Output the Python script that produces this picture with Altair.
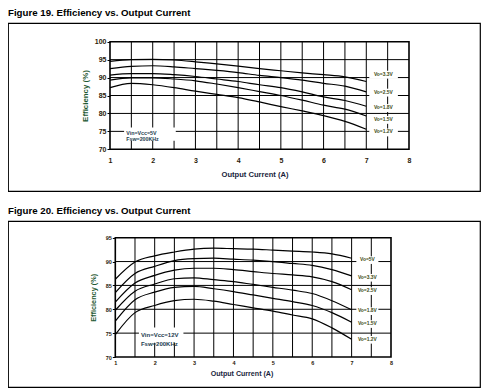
import altair as alt
import pandas as pd

FONT = "Liberation Sans"

# ---------------- data ----------------
current = [1, 1.5, 2, 2.5, 3, 3.5, 4, 4.5, 5, 5.5, 6, 6.5, 7]

# Figure 19 (Vin = Vcc = 5V)
f19_names = ["Vo=3.3V", "Vo=2.5V", "Vo=1.8V", "Vo=1.5V", "Vo=1.2V"]
f19_vo33 = [94.5, 95.0, 95.1, 94.9, 94.4, 93.8, 93.2, 92.5, 91.9, 91.3, 90.8, 90.2, 88.9]
f19_vo25 = [92.5, 93.1, 93.3, 93.0, 92.5, 92.0, 91.4, 90.6, 90.0, 89.3, 88.4, 87.6, 86.0]
f19_vo18 = [90.7, 91.1, 91.1, 90.8, 90.3, 89.6, 88.9, 88.0, 87.2, 86.0, 84.6, 83.6, 82.0]
f19_vo15 = [89.3, 89.9, 89.9, 89.6, 89.1, 88.2, 87.2, 86.1, 85.0, 83.7, 82.3, 81.2, 79.3]
f19_vo12 = [87.2, 88.4, 88.0, 87.2, 86.2, 85.3, 84.4, 83.2, 81.9, 80.7, 79.4, 77.8, 75.6]
f19_label_at = [90.8, 85.8, 81.5, 78.2, 74.7]

# Figure 20 (Vin = Vcc = 12V)
f20_names = ["Vo=5V", "Vo=3.3V", "Vo=2.5V", "Vo=1.8V", "Vo=1.5V", "Vo=1.2V"]
f20_vo50 = [86.3, 89.9, 91.2, 92.0, 92.6, 92.8, 92.7, 92.6, 92.4, 92.2, 92.0, 91.6, 90.7]
f20_vo33 = [83.5, 87.5, 89.0, 90.2, 90.6, 90.7, 90.5, 90.3, 90.0, 89.6, 89.2, 88.3, 87.0]
f20_vo25 = [81.5, 85.5, 87.1, 88.2, 88.6, 88.6, 88.3, 87.9, 87.5, 87.2, 86.8, 85.8, 84.1]
f20_vo18 = [79.8, 83.8, 85.3, 86.4, 86.6, 86.2, 85.8, 85.2, 84.6, 84.0, 83.3, 81.8, 79.9]
f20_vo15 = [77.5, 82.0, 83.6, 84.6, 84.8, 84.3, 83.7, 83.0, 82.3, 81.6, 80.8, 79.3, 77.3]
f20_vo12 = [74.7, 79.3, 80.8, 81.8, 82.1, 81.7, 81.0, 80.3, 79.6, 78.8, 78.0, 76.1, 73.7]
f20_label_at = [90.3, 86.6, 83.8, 79.6, 76.9, 73.6]

x_ticks = [1, 2, 3, 4, 5, 6, 7, 8]
x_grid = [1.5, 2, 2.5, 3, 3.5, 4, 4.5, 5, 5.5, 6, 6.5, 7, 7.5]

X_TITLE = "Output Current (A)"
Y_TITLE = "Efficiency (%)"


def panel(title, names, series, label_at, ymax, W, H, xr, yr, x_off, y_off,
          xtitle_pos, ytitle_x, tick_fs, xtitle_fs, ytitle_fs, xlab_pad,
          cond_text, cond_y, cond_box, cond_fs, cond_lh, lab_x, lab_box, lab_half):
    xs = alt.Scale(domain=[1, 8], range=xr, nice=False, zero=False)
    ys = alt.Scale(domain=[70, ymax], range=yr, nice=False, zero=False)
    y_ticks = list(range(70, ymax + 1, 5))
    y_grid = y_ticks[1:-1]

    rows = []
    for n, vals in zip(names, series):
        for c, v in zip(current, vals):
            rows.append({"I": c, "E": v, "series": n})
    df = pd.DataFrame(rows)

    x_axis = alt.Axis(values=x_ticks, offset=x_off, grid=False, domain=False, ticks=False,
                      labelFont=FONT, labelFontSize=tick_fs, labelFontWeight="bold",
                      labelColor="#2a1a08", labelPadding=xlab_pad, labelFlush=False,
                      labelOverlap=False, format="d",
                      titleFont=FONT, titleFontSize=xtitle_fs, titleFontWeight="bold",
                      titleColor="#1a1f3d", titleX=xtitle_pos[0], titleY=xtitle_pos[1],
                      titleBaseline="middle", titleAlign="center")
    y_axis = alt.Axis(values=y_ticks, offset=y_off, grid=False, domain=False, ticks=True,
                      tickSize=3, tickColor="black", tickWidth=1,
                      labelFont=FONT, labelFontSize=tick_fs, labelFontWeight="bold",
                      labelColor="#2a1a08", labelPadding=1, labelOverlap=False,
                      titleFont=FONT, titleFontSize=ytitle_fs, titleFontWeight="bold",
                      titleColor="#1f5a32", titleX=ytitle_x, titleY=(yr[0] + yr[1]) / 2,
                      titleBaseline="middle", titleAlign="center", titleAngle=-90)

    def X(field=None, datum=None):
        if field is not None:
            return alt.X(field, scale=xs, axis=x_axis, title=X_TITLE)
        return alt.X(datum=datum, type="quantitative", scale=xs, axis=x_axis, title=X_TITLE)

    def Y(field=None, datum=None):
        if field is not None:
            return alt.Y(field, scale=ys, axis=y_axis, title=Y_TITLE)
        return alt.Y(datum=datum, type="quantitative", scale=ys, axis=y_axis, title=Y_TITLE)

    one = pd.DataFrame({"a": [0]})

    vgrid = alt.Chart(pd.DataFrame({"g": x_grid})).mark_rule(color="black", strokeWidth=1).encode(
        x=X("g:Q"), y=Y(datum=70), y2=alt.Y2(datum=ymax),
    )
    hgrid = alt.Chart(pd.DataFrame({"g": y_grid})).mark_rule(color="black", strokeWidth=1).encode(
        y=Y("g:Q"), x=X(datum=1), x2=alt.X2(datum=8),
    )

    lab_df = pd.DataFrame({"name": names, "ly": label_at})
    lab_df["lo"] = lab_df["ly"] - lab_half
    lab_df["hi"] = lab_df["ly"] + lab_half
    lab_bg = alt.Chart(lab_df).mark_rect(color="white").encode(
        x=X(datum=lab_box[0]), x2=alt.X2(datum=lab_box[1]),
        y=Y("lo:Q"), y2="hi:Q",
    )
    cond_bg = alt.Chart(one).mark_rect(color="white").encode(
        x=X(datum=cond_box[0]), x2=alt.X2(datum=cond_box[1]),
        y=Y(datum=cond_box[2]), y2=alt.Y2(datum=cond_box[3]),
    )

    lines = alt.Chart(df).mark_line(color="black", strokeWidth=1.2, interpolate="monotone").encode(
        x=X("I:Q"), y=Y("E:Q"), detail="series:N",
    )

    frame = alt.Chart(one).mark_rect(fillOpacity=0, stroke="black", strokeWidth=1.6).encode(
        x=X(datum=1), x2=alt.X2(datum=8),
        y=Y(datum=70), y2=alt.Y2(datum=ymax),
    )

    labels = alt.Chart(lab_df).mark_text(font=FONT, fontSize=4.9, fontWeight="bold",
                                         color="#3d4a12", align="center", baseline="middle").encode(
        x=X(datum=lab_x), y=Y("ly:Q"), text="name:N",
    )
    cond = alt.Chart(one).mark_text(font=FONT, fontSize=cond_fs, fontWeight="bold",
                                    color="#1c4050", align="left", baseline="middle",
                                    lineBreak="\n", lineHeight=cond_lh).encode(
        x=X(datum=cond_box[0] + 0.05), y=Y(datum=cond_y), text=alt.value(cond_text),
    )

    return alt.layer(vgrid, hgrid, lab_bg, cond_bg, lines, frame, labels, cond).properties(
        width=W, height=H,
        title=alt.TitleParams(title, anchor="start", frame="group", font=FONT, fontSize=9.7,
                              fontWeight="bold", color="black", offset=5),
    )


p1 = panel("Figure 19. Efficiency vs. Output Current", f19_names,
           [f19_vo33, f19_vo25, f19_vo18, f19_vo15, f19_vo12], f19_label_at, 100,
           472, 168, [102, 401], [126.3, 18.7], -41.7, -102,
           (246.5, 24.7), -25, 7, 7.6, 7.9, 7,
           "Vin=Vcc=5V\nFsw=200KHz", 74.65, (1.33, 2.54, 72.4, 76.1), 5.3, 6.3,
           7.4, (7.07, 7.74), 1.1)

p2 = panel("Figure 20. Efficiency vs. Output Current", f20_names,
           [f20_vo50, f20_vo33, f20_vo25, f20_vo18, f20_vo15, f20_vo12], f20_label_at, 95,
           472, 166, [107.3, 383], [136, 16.7], -30, -107.3,
           (233.5, 16.7), -22, 5.5, 7.1, 7.3, 3,
           "Vin=Vcc=12V\nFsw=200KHz", 74.56, (1.6, 2.73, 73.0, 76.2), 6, 8.3,
           7.4, (7.12, 7.68), 0.8)

chart = alt.vconcat(p1, p2, spacing=13).properties(
    padding={"left": -1, "top": -1, "right": 0, "bottom": 0}
).configure_view(stroke="black", strokeWidth=1.2)

chart.save("out.html", embed_options={"renderer": "svg", "actions": False})
